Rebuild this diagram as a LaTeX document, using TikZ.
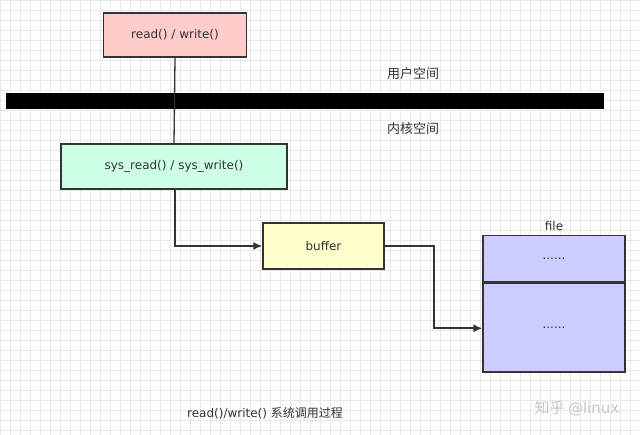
\documentclass[tikz,border=0pt]{standalone}
\usepackage{fontspec}
\setmainfont{DejaVu Sans}
\newfontfamily\cjk{Noto Sans CJK SC}
\usepackage{tikz}
\usetikzlibrary{arrows.meta,positioning}
\usepackage{xcolor}
\definecolor{userpink}{RGB}{255,204,204}
\definecolor{sysmint}{RGB}{204,255,230}
\definecolor{bufyellow}{RGB}{255,255,204}
\definecolor{filelav}{RGB}{204,204,255}
\definecolor{edge}{RGB}{51,51,51}
\definecolor{gridgray}{RGB}{232,232,232}

\begin{document}
\begin{tikzpicture}[
 x=1pt,y=-1pt,
 every node/.style={font=\fontsize{12}{14}\selectfont,text=edge},
 zh/.style={font=\fontsize{13}{15}\selectfont\cjk},
 call/.style={draw=edge,line width=1.5pt,align=center,inner sep=0pt},
 arr/.style={-{Latex[length=9pt,width=8pt]},draw=edge,line width=1.5pt},
 link/.style={draw=edge,line width=1.3pt}
]
\useasboundingbox (0,0) rectangle (640,435);
\fill[white] (0,0) rectangle (640,435);
% background grid
\foreach \gx in {0,10,...,640} \draw[gridgray,line width=0.6pt] (\gx,0)--(\gx,435);
\foreach \gy in {0,10,...,430} \draw[gridgray,line width=0.6pt] (0,\gy)--(640,\gy);
% user side
\node[call,fill=userpink,minimum width=143pt,minimum height=44pt] (rw) at (175,35) {read() / write()};
\fill[black] (6,93) rectangle (604,109);
\coordinate (bar) at (175,101);
\node[zh] (user) at (413,74) {用户空间};
\node[zh] (kernel) at (413,129) {内核空间};
% kernel side
\node[call,fill=sysmint,minimum width=226pt,minimum height=45pt] (sys) at (174,166.5) {sys\_read() / sys\_write()};
\node[call,fill=bufyellow,minimum width=121pt,minimum height=46pt] (buf) at (323.5,246) {buffer};
\node[call,fill=filelav,minimum width=142pt,minimum height=46pt,anchor=north] (ftop) at (554,235) {......};
\node[call,fill=filelav,minimum width=142pt,minimum height=89pt,anchor=north] (fbot) at (ftop.south) {......};
\node[above=1pt of ftop] (fname) {file};
\draw[link] (rw.south)--(sys.north);
\draw[arr] (sys.south-|rw.south)|-(buf.west);
\draw[arr] (buf.east)--++(49,0)|-([yshift=-0.5pt]fbot.west);
% captions
\node (cap) at (265,413) {read()/write() {\cjk 系统调用过程}};
\node[text=gray!45,font=\fontsize{15}{17}\selectfont] (mark) at (577,408) {\cjk 知乎 \rmfamily @linux};
\end{tikzpicture}
\end{document}
